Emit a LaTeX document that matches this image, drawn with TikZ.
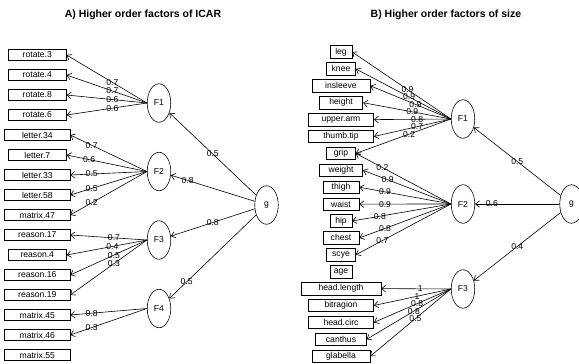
\documentclass[tikz,border=0pt]{standalone}
\usepackage{fontspec}
\setmainfont{Liberation Sans}
\usetikzlibrary{shapes.geometric,arrows.meta}
\tikzset{
  item/.style={draw,rectangle,inner sep=0pt,line width=0.6pt,font=\fontsize{8.6}{10}\selectfont},
  factor/.style={draw,ellipse,inner sep=0pt,line width=0.6pt,minimum width=23.5pt,minimum height=38.5pt,font=\fontsize{8.6}{10}\selectfont},
  load/.style={line width=0.6pt,-{Straight Barb[length=4pt,width=6.5pt]}},
  wt/.style={inner sep=0pt,font=\fontsize{8.6}{10}\selectfont},
  heading/.style={font=\fontsize{10.5}{12}\selectfont\bfseries}
}
\begin{document}
\begin{tikzpicture}[x=1pt,y=-1pt]
  \useasboundingbox (0,0) rectangle (579,364);
  \node[heading] (ta) at (143,15) {A) Higher order factors of ICAR};
  \node[heading] (tb) at (446,15) {B) Higher order factors of size};

  % A) ICAR
  \foreach \i/\lab/\n in {1/rotate.3/8, 2/rotate.4/8, 3/rotate.8/8, 4/rotate.6/8,
      5/letter.34/9, 6/letter.7/8, 7/letter.33/9, 8/letter.58/9, 9/matrix.47/9,
      10/reason.17/9, 11/reason.4/8, 12/reason.16/9, 13/reason.19/9,
      14/matrix.45/9, 15/matrix.46/9, 16/matrix.55/9} {
    \node[item,minimum width=7.25pt*\n,minimum height=11.5pt] (a\i) at (37.3,{55+20*(\i-1)}) {\lab};
  }
  \foreach \f in {1,...,4} {
    \node[factor] (aF\f) at (159,{103+68.5*(\f-1)}) {F\f};
  }
  \node[factor] (ag) at (266.5,205) {g};
  \foreach \f/\i/\v in {1/1/0.7, 1/2/0.7, 1/3/0.6, 1/4/0.6,
      3/10/0.7, 3/11/0.4, 3/12/0.5, 3/13/0.3} {
    \draw[load] (aF\f.west) -- node[wt,pos=0.43] {\v} (a\i.east);
  }
  \foreach \f/\i/\v in {2/5/0.7, 2/6/0.6, 2/7/0.5, 2/8/0.5, 2/9/0.2,
      4/14/0.8, 4/15/0.3} {
    \draw[load] (aF\f.west) -- node[wt,pos=0.72] {\v} (a\i.east);
  }
  \draw[load] (ag) -- node[wt,pos=0.5] {0.5} (aF1);
  \draw[load] (ag) -- node[wt,pos=0.8] {0.8} (aF2);
  \draw[load] (ag) -- node[wt,pos=0.5] {0.8} (aF3);
  \draw[load] (ag) -- node[wt,pos=0.8] {0.5} (aF4);

  % B) size
  \foreach \i/\lab/\n in {1/leg/3, 2/knee/4, 3/insleeve/8, 4/height/6,
      5/upper.arm/9, 6/thumb.tip/9, 7/grip/4, 8/weight/6, 9/thigh/5,
      10/waist/5, 11/hip/3, 12/chest/5, 13/scye/4, 14/age/3,
      15/head.length/11, 16/bitragion/9, 17/head.circ/9, 18/canthus/7,
      19/glabella/8} {
    \node[item,minimum width=7.25pt*\n,minimum height=12.5pt] (b\i) at (341,{52+16.9*(\i-1)}) {\lab};
  }
  \foreach \f in {1,...,3} {
    \node[factor] (bF\f) at (463,{119+85*(\f-1)}) {F\f};
  }
  \node[factor] (bg) at (571.5,204) {g};
  \foreach \f/\i/\v in {1/1/0.9, 1/2/0.9, 1/3/0.9, 1/4/0.9, 1/5/0.8, 1/6/0.7, 1/7/0.2,
      3/15/1, 3/16/1, 3/17/0.8, 3/18/0.8, 3/19/0.5} {
    \draw[load] (bF\f.west) -- node[wt,pos=0.44] {\v} (b\i.east);
  }
  \foreach \f/\i/\v in {2/7/0.2, 2/8/0.9, 2/9/0.9, 2/10/0.9, 2/11/0.8, 2/12/0.8, 2/13/0.7} {
    \draw[load] (bF\f.west) -- node[wt,pos=0.72] {\v} (b\i.east);
  }
  \draw[load] (bg) -- node[wt,pos=0.5] {0.5} (bF1);
  \draw[load] (bg) -- node[wt,pos=0.8] {0.6} (bF2);
  \draw[load] (bg) -- node[wt,pos=0.5] {0.4} (bF3);
\end{tikzpicture}
\end{document}
